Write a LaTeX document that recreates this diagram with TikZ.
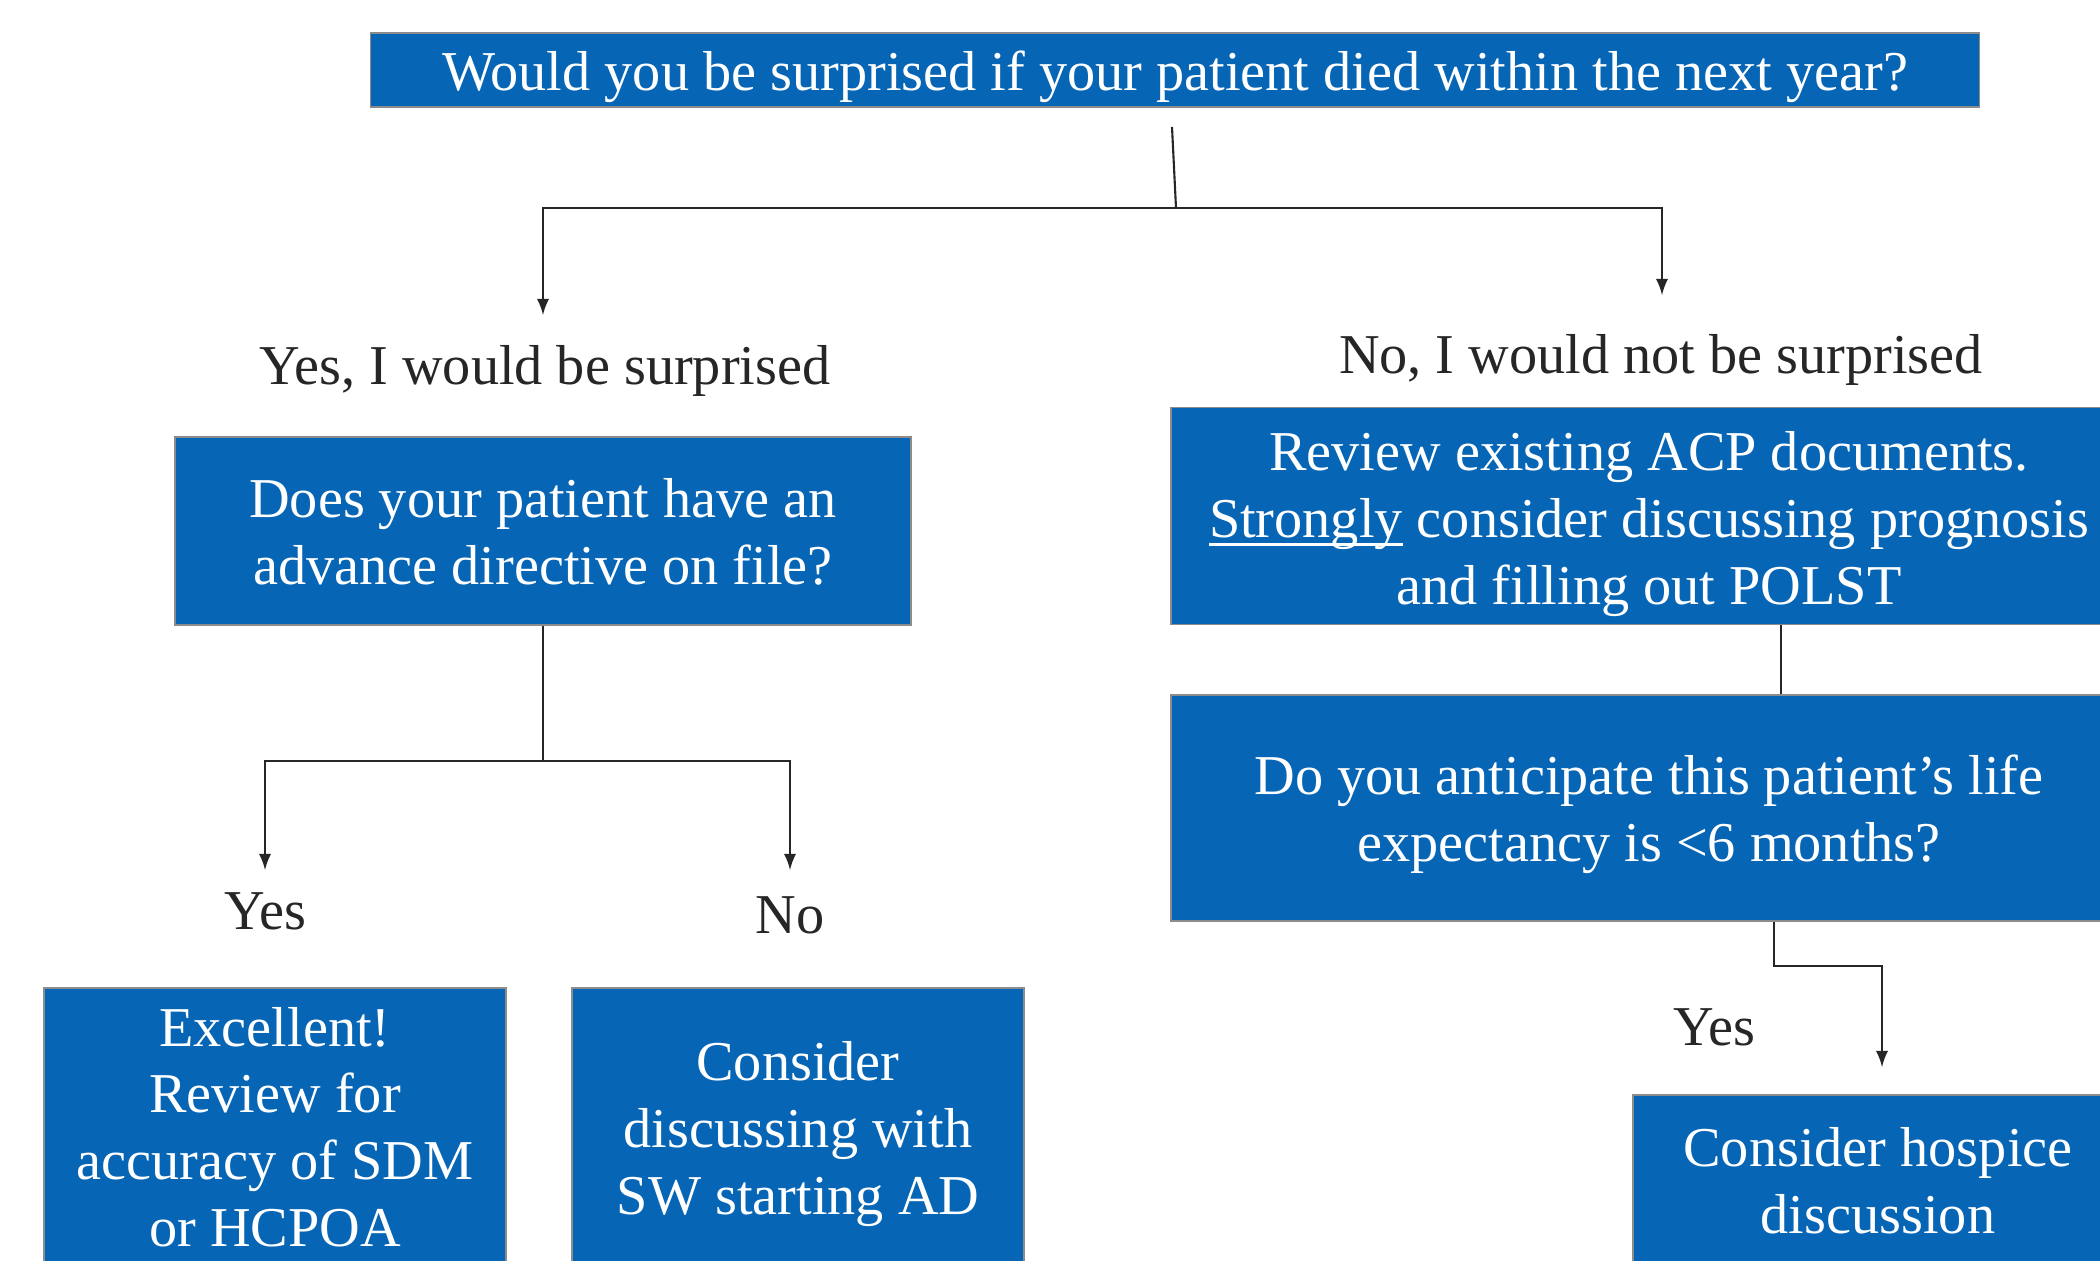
\documentclass[tikz,border=0pt]{standalone}
\usepackage{fontspec}
\setmainfont{Liberation Serif}
\usetikzlibrary{arrows}
\definecolor{boxblue}{RGB}{6,101,180}
\definecolor{wirecol}{RGB}{38,38,38}
\newcommand{\boxtext}[2][0pt]{\raisebox{-#1}[\height][\depth]{\begin{tabular}{@{}c@{}}#2\end{tabular}}}
\newcommand{\ulword}[1]{\setbox0\hbox{#1}\rlap{\rule[-2.4pt]{\wd0}{0.7pt}}\box0\relax}
\tikzset{
  qbox/.style={rectangle, fill=boxblue, draw=black!45, line width=0.5pt, text=white,
    inner sep=0pt, font=\fontsize{16}{19}\selectfont},
  answer/.style={text=wirecol, inner sep=0pt, font=\fontsize{16}{19}\selectfont},
  wire/.style={draw=wirecol, line width=0.6pt}
}

\begin{document}
\begin{tikzpicture}[x=0.01cm, y=-0.01cm]
  \useasboundingbox (0,0) rectangle (2100,1261);
  \clip (0,0) rectangle (2100,1261);
  % Boxes:
  \node[qbox, minimum width=16.08cm, minimum height=0.74cm] (top) at (1175,70)
    {\boxtext[1.9pt]{Would you be surprised if your patient died within the next year?}};
  \node[qbox, minimum width=7.36cm, minimum height=1.88cm] (adq) at (543,531)
    {\boxtext[1.9pt]{Does your patient have an\\advance directive on file?}};
  \node[qbox, minimum width=9.56cm, minimum height=2.17cm] (review) at (1649,516)
    {\boxtext[2.3pt]{Review existing ACP documents.\\\ulword{Strongly} consider discussing prognosis\\and filling out POLST}};
  \node[qbox, minimum width=9.56cm, minimum height=2.26cm] (antic) at (1649,808)
    {\boxtext[1.9pt]{Do you anticipate this patient’s life\\expectancy is <6 months?}};
  \node[qbox, minimum width=4.62cm, minimum height=2.82cm] (excel) at (275,1129)
    {\boxtext[1.1pt]{Excellent!\\Review for\\accuracy of SDM\\or HCPOA}};
  \node[qbox, minimum width=4.51cm, minimum height=2.82cm] (consid) at (798,1129)
    {\boxtext[1.5pt]{Consider\\discussing with\\SW starting AD}};
  \node[qbox, minimum width=4.9cm, minimum height=1.76cm] (hosp) at (1878,1183)
    {\boxtext[1.1pt]{Consider hospice\\discussion}};
  % Answers:
  \node[answer] (yessur) at (545,371) {Yes, I would be surprised};
  \node[answer] (nosur) at (1661,360) {No, I would not be surprised};
  \node[answer] (yesad) at (265,911) {Yes};
  \node[answer] (noad) at (790,915) {No};
  \node[answer] (yeshos) at (1714,1027) {Yes};
  % Junctions and arrow ends:
  \coordinate (t1) at (1172,127);
  \coordinate (t2) at (1176,208);
  \coordinate (a1) at (543,315);
  \coordinate (a2) at (1662,295);
  \coordinate (j2) at (543,761);
  \coordinate (a3) at (265,870);
  \coordinate (a4) at (790,870);
  \coordinate (r1) at (1781,0);
  \coordinate (k1) at (1774,966);
  \coordinate (a5) at (1882,1067);
  % Wires:
  \draw[wire] (t1) -- (t2);
  \draw[wire, -latex] (t2) -| (a1);
  \draw[wire, -latex] (t2) -| (a2);
  \draw[wire] (adq.south) -- (j2);
  \draw[wire, -latex] (j2) -| (a3);
  \draw[wire, -latex] (j2) -| (a4);
  \draw[wire] (review.south -| r1) -- (antic.north -| r1);
  \draw[wire, -latex] (antic.south -| k1) -- (k1) -| (a5);
\end{tikzpicture}
\end{document}
